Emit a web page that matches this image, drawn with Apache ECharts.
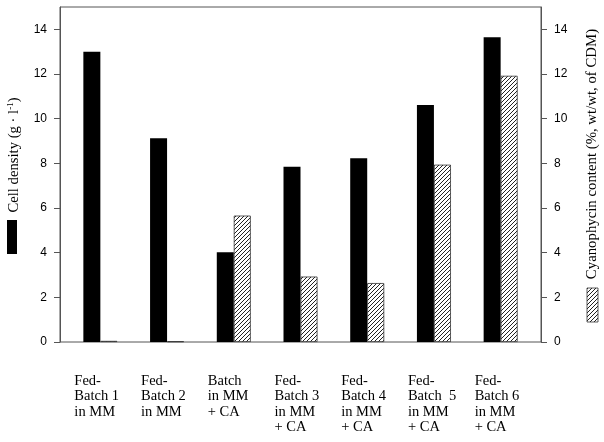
<!DOCTYPE html>
<html>
<head>
<meta charset="utf-8">
<script src="https://cdn.jsdelivr.net/npm/echarts@6/dist/echarts.min.js"></script>
<style>
  html, body { margin: 0; padding: 0; background: #fff; }
  #chart { width: 604px; height: 442px; }
</style>
</head>
<body>
<div id="chart"></div>
<script>
const categories = [
  'Fed-\nBatch 1\nin MM',
  'Fed-\nBatch 2\nin MM',
  'Batch\nin MM\n+ CA',
  'Fed-\nBatch 3\nin MM\n+ CA',
  'Fed-\nBatch 4\nin MM\n+ CA',
  'Fed-\nBatch  5\nin MM\n+ CA',
  'Fed-\nBatch 6\nin MM\n+ CA'
]
const cellDensity = [13.0, 9.12, 4.02, 7.85, 8.23, 10.61, 13.64]
const cyanophycin = [0.05, 0.03, 5.66, 2.93, 2.64, 7.94, 11.92]
const yTicks = [0, 2, 4, 6, 8, 10, 12, 14]

const serif = '"Liberation Serif", "DejaVu Serif", serif'
const sans = '"Liberation Sans", Arial, sans-serif'

// diagonal hatch for the cyanophycin bars
function makeHatch() {
  const c = document.createElement('canvas')
  c.width = 4
  c.height = 4
  const ctx = c.getContext('2d')
  ctx.fillStyle = '#fff'
  ctx.fillRect(0, 0, 4, 4)
  ctx.strokeStyle = '#222'
  ctx.lineWidth = 1
  ctx.beginPath()
  ctx.moveTo(-1, 5); ctx.lineTo(5, -1)
  ctx.moveTo(-1, 1); ctx.lineTo(1, -1)
  ctx.moveTo(3, 5); ctx.lineTo(5, 3)
  ctx.stroke()
  return { image: c, repeat: 'repeat' }
}
const hatch = makeHatch()

const chart = echarts.init(document.getElementById('chart'))

const sideAxis = (position) => ({
  type: 'value',
  gridIndex: 0,
  position,
  min: 0,
  max: 15,
  interval: 2,
  axisLine: { show: true, lineStyle: { color: '#555' } },
  axisTick: { show: true, length: 6, customValues: yTicks, lineStyle: { color: '#555' } },
  axisLabel: { customValues: yTicks, margin: 13, color: '#000', fontFamily: sans, fontSize: 12 },
  splitLine: { show: false }
})

const hiddenAxis = (position) => ({
  type: 'value',
  gridIndex: 1,
  position,
  min: 0,
  max: 15,
  show: false
})

chart.setOption({
  animation: false,
  grid: [
    { left: 60, right: 63, top: 7, bottom: 100, show: true, borderColor: '#555', borderWidth: 1 },
    { left: 67, right: 70, top: 7, bottom: 100 }
  ],
  xAxis: [
    { type: 'value', gridIndex: 0, min: 0, max: 1, show: false },
    {
      type: 'category',
      gridIndex: 1,
      data: categories,
      axisLine: { show: false },
      axisTick: { show: false },
      axisLabel: {
        interval: 0,
        margin: 31,
        align: 'center',
        formatter(value) {
          return value.split('\n').map((line) => `{a|${line}}`).join('\n')
        },
        rich: {
          a: { width: 52, align: 'left', fontFamily: serif, fontSize: 14.5, lineHeight: 15.5, color: '#000' }
        }
      }
    }
  ],
  yAxis: [sideAxis('left'), sideAxis('right'), hiddenAxis('left'), hiddenAxis('right')],
  series: [
    {
      name: 'Cell density',
      type: 'bar',
      xAxisIndex: 1,
      yAxisIndex: 2,
      barWidth: 17,
      barGap: '0%',
      itemStyle: { color: '#000' },
      data: cellDensity
    },
    {
      name: 'Cyanophycin content',
      type: 'bar',
      xAxisIndex: 1,
      yAxisIndex: 3,
      barWidth: 17,
      barGap: '0%',
      itemStyle: { color: hatch, borderColor: '#333', borderWidth: 0.8 },
      data: cyanophycin
    }
  ],
  graphic: [
    {
      type: 'text',
      x: 14,
      y: 155,
      rotation: Math.PI / 2,
      style: {
        text: 'Cell density (g · l{sup|-1})',
        font: `14.7px ${serif}`,
        fill: '#000',
        align: 'center',
        verticalAlign: 'middle',
        rich: { sup: { fontSize: 9, fontFamily: serif, verticalAlign: 'top', padding: [0, 0, 6, 0] } }
      }
    },
    { type: 'rect', shape: { x: 7, y: 220, width: 10, height: 34 }, style: { fill: '#000' } },
    {
      type: 'text',
      x: 592,
      y: 154,
      rotation: Math.PI / 2,
      style: {
        text: 'Cyanophycin content (%, wt/wt, of CDM)',
        font: `14.8px ${serif}`,
        fill: '#000',
        align: 'center',
        verticalAlign: 'middle'
      }
    },
    {
      type: 'rect',
      shape: { x: 587, y: 288, width: 11, height: 34 },
      style: { fill: hatch, stroke: '#333', lineWidth: 0.8 }
    }
  ]
})
</script>
</body>
</html>
